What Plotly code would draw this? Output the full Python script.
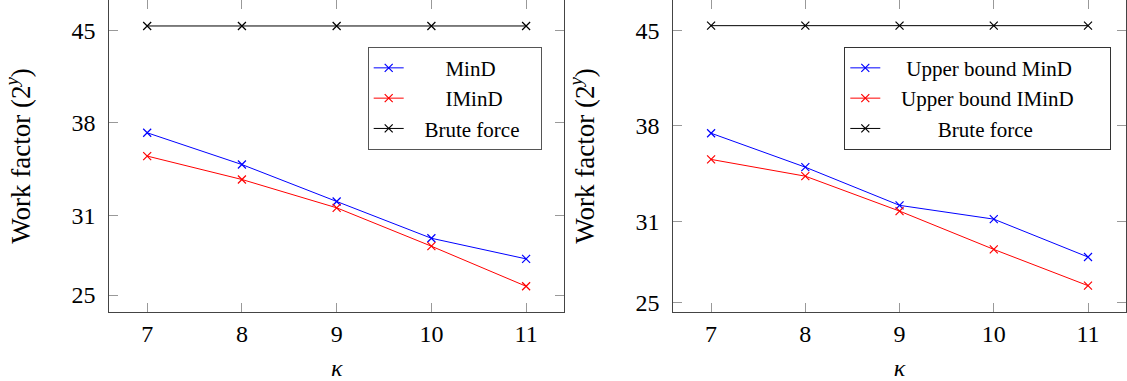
import plotly.graph_objects as go

kappa = [7, 8, 9, 10, 11]

# Left panel
mind_left = [37.26, 34.86, 32.07, 29.29, 27.73]
iminD_left = [35.50, 33.73, 31.59, 28.69, 25.66]
brute_left = [45.33, 45.33, 45.33, 45.33, 45.33]

# Right panel
ub_mind_right = [37.45, 34.96, 32.16, 31.15, 28.37]
ub_iminD_right = [35.53, 34.30, 31.74, 28.93, 26.27]
brute_right = [45.34, 45.34, 45.34, 45.34, 45.34]

y_ticks = [25, 31, 38, 45]
x_ticks = [7, 8, 9, 10, 11]

names_left = ["MinD", "IMinD", "Brute force"]
names_right = ["Upper bound MinD", "Upper bound IMinD", "Brute force"]

NB = "\u00a0"
lead_left = [7, 7, 3]
trail_left = [0, 0, 3]
lead_right = [4, 3, 10]
trail_right = [0, 6, 0]

FONT = "'Liberation Serif', 'Times New Roman', serif"
W, H = 1127, 381

fig = go.Figure()

def add_series(x, y, name, color, xa, ya, legend, group):
    fig.add_trace(go.Scatter(
        x=x, y=y, name=name, mode="lines+markers",
        line=dict(color=color, width=1),
        marker=dict(symbol="x-thin", size=8, color=color, line=dict(width=1.2, color=color)),
        xaxis=xa, yaxis=ya, legend=legend, legendgroup=group,
    ))

left_series = [mind_left, iminD_left, brute_left]
right_series = [ub_mind_right, ub_iminD_right, brute_right]
colors = ["#0000ff", "#ff0000", "#000000"]

for i in range(3):
    add_series(kappa, left_series[i], NB * lead_left[i] + names_left[i] + NB * trail_left[i],
               colors[i], "x", "y", "legend", "l%d" % i)
for i in range(3):
    add_series(kappa, right_series[i], NB * lead_right[i] + names_right[i] + NB * trail_right[i],
               colors[i], "x2", "y2", "legend2", "r%d" % i)

def px_x(p):
    return p / W

def px_y(p):
    return (H - p) / H

axis_common = dict(
    showline=True, linecolor="#444", linewidth=1, mirror="ticks",
    ticks="inside", ticklen=9, tickwidth=1, tickcolor="#999",
    showgrid=False, zeroline=False, automargin=False,
    tickfont=dict(family=FONT, size=24, color="#000"),
)

ydom = [px_y(311.7), px_y(0.3)]
ytitle = "Work factor (2<sup><i>y</i></sup>)"

fig.update_layout(
    width=W, height=H,
    margin=dict(l=0, r=0, t=0, b=0),
    paper_bgcolor="white", plot_bgcolor="white",
    font=dict(family=FONT, color="#000"),
    xaxis=dict(domain=[px_x(109.3), px_x(564.0)], range=[6.6, 11.4], tickvals=x_ticks,
               title=dict(text="<i>κ</i>", font=dict(family=FONT, size=24), standoff=14),
               ticklabelstandoff=0, anchor="y", **axis_common),
    yaxis=dict(domain=ydom, range=[23.74, 47.27], tickvals=y_ticks,
               title=dict(text=ytitle, font=dict(family=FONT, size=27), standoff=33),
               ticklabelstandoff=8, anchor="x", **axis_common),
    xaxis2=dict(domain=[px_x(673.4), px_x(1125.7)], range=[6.6, 11.4], tickvals=x_ticks,
                title=dict(text="<i>κ</i>", font=dict(family=FONT, size=24), standoff=14),
                ticklabelstandoff=0, anchor="y2", **axis_common),
    yaxis2=dict(domain=ydom, range=[24.36, 47.2], tickvals=y_ticks,
                title=dict(text=ytitle, font=dict(family=FONT, size=27), standoff=33),
                ticklabelstandoff=8, anchor="x2", **axis_common),
    legend=dict(x=px_x(367.7), y=px_y(46.7), xanchor="left", yanchor="top",
                bordercolor="#555", borderwidth=1, bgcolor="white",
                font=dict(family=FONT, size=21, color="#000"), tracegroupgap=0),
    legend2=dict(x=px_x(844.3), y=px_y(46.7), xanchor="left", yanchor="top",
                 bordercolor="#333", borderwidth=1, bgcolor="white",
                 font=dict(family=FONT, size=21, color="#000"), tracegroupgap=0),
)

fig.write_html("out.html", config={"displayModeBar": False},
               post_script="document.body.style.margin='0';")
